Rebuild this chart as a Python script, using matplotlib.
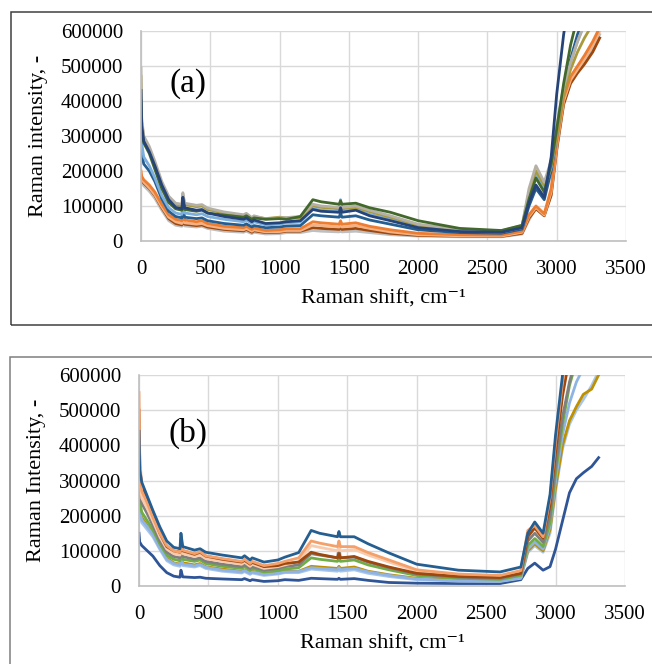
import numpy as np
import matplotlib
matplotlib.use('Agg')
import matplotlib.pyplot as plt
from matplotlib.patches import Rectangle

plt.rcParams.update({
    'font.family': ['Liberation Serif', 'DejaVu Serif'],
    'font.size': 15,
})

# Raman shift grid (cm-1), shared by every spectrum
shift = [0, 5, 20, 60, 100, 150, 200, 250, 295, 302, 315, 400, 440, 480, 600, 740, 760, 800, 815, 900,
         1000, 1050, 1150, 1240, 1300, 1430, 1440, 1450, 1550, 1650, 1800, 2000, 2300, 2600, 2750, 2800,
         2850, 2910, 2960, 3000, 3050, 3100, 3150, 3200, 3260, 3310]

# panel (a) intensities, thousands
a_gray = [495, 350, 300, 270, 228, 170, 128, 108, 105, 138, 108, 102, 104, 94, 83, 75, 79, 67, 72, 63,
          66, 67, 70, 105, 100, 96, 108, 96, 100, 88, 72, 48, 33, 29, 44, 150,
          215, 168, 230, 330, 440, 510, 570, 620, 680, 720]
a_olive = [470, 340, 295, 262, 220, 162, 122, 104, 100, 132, 104, 98, 100, 90, 80, 72, 76, 64, 70, 64,
           68, 66, 66, 100, 96, 92, 104, 92, 96, 84, 68, 45, 32, 28, 42, 140,
           200, 160, 215, 300, 420, 490, 540, 580, 620, 660]
a_green = [400, 320, 280, 250, 205, 150, 110, 92, 88, 118, 90, 85, 88, 80, 74, 68, 72, 62, 66, 62,
           64, 62, 70, 118, 112, 105, 115, 105, 108, 95, 82, 58, 36, 30, 45, 120,
           180, 140, 220, 320, 450, 560, 640, 700, 760, 800]
a_lblue = [360, 280, 240, 215, 180, 130, 95, 80, 76, 110, 80, 75, 78, 70, 62, 55, 60, 50, 55, 46,
           48, 52, 54, 92, 88, 84, 118, 84, 90, 76, 62, 40, 28, 25, 38, 130,
           190, 150, 210, 300, 430, 510, 570, 620, 670, 710]
a_navy = [430, 330, 285, 255, 215, 160, 118, 96, 92, 125, 95, 88, 90, 80, 70, 62, 66, 55, 60, 50,
          52, 55, 58, 90, 85, 82, 95, 82, 88, 72, 58, 38, 27, 25, 38, 110,
          160, 125, 240, 420, 590, 720, 800, 850, 900, 950]
a_dblue = [300, 250, 220, 200, 170, 120, 85, 70, 66, 95, 68, 64, 66, 58, 50, 45, 49, 40, 44, 38,
           40, 43, 44, 75, 72, 68, 80, 68, 72, 60, 48, 32, 24, 22, 34, 100,
           150, 118, 200, 300, 430, 520, 590, 640, 700, 740]
a_orange = [200, 185, 175, 160, 140, 105, 75, 62, 58, 85, 60, 55, 58, 50, 42, 38, 42, 33, 37, 30,
            32, 35, 35, 55, 52, 48, 58, 48, 52, 42, 32, 22, 18, 17, 28, 75,
            100, 78, 150, 280, 410, 470, 500, 530, 570, 610]
a_peach = [190, 178, 168, 152, 132, 98, 68, 55, 50, 75, 52, 48, 50, 44, 36, 32, 36, 28, 32, 26,
           27, 30, 30, 46, 44, 40, 48, 40, 44, 36, 26, 18, 15, 14, 25, 70,
           96, 74, 140, 270, 400, 460, 490, 520, 560, 600]
a_brown = [185, 175, 165, 150, 130, 95, 64, 50, 46, 70, 48, 44, 46, 40, 33, 29, 33, 25, 29, 24,
           25, 28, 28, 38, 36, 33, 40, 33, 36, 30, 22, 16, 14, 13, 22, 65,
           92, 72, 130, 260, 390, 450, 480, 505, 540, 580]
a_silver = [175, 168, 158, 142, 122, 88, 58, 45, 42, 62, 43, 40, 42, 36, 28, 25, 28, 21, 25, 20,
            21, 24, 24, 30, 28, 26, 30, 26, 28, 24, 18, 14, 12, 12, 20, 60,
            95, 72, 135, 265, 395, 455, 485, 510, 550, 590]

# panel (b) intensities, thousands
b_top = [440, 330, 295, 255, 215, 168, 128, 110, 106, 150, 112, 102, 106, 96, 88, 80, 86, 74, 80, 68,
         74, 82, 95, 158, 150, 140, 155, 140, 140, 120, 94, 62, 45, 40, 54, 150,
         182, 150, 260, 430, 600, 720, 800, 850, 900, 950]
b_orange = [550, 380, 270, 235, 195, 150, 115, 100, 96, 140, 102, 92, 98, 86, 78, 70, 76, 64, 70, 58,
            64, 70, 80, 128, 122, 112, 128, 112, 112, 95, 74, 46, 34, 30, 44, 158,
            172, 140, 250, 410, 580, 700, 780, 840, 890, 930]
b_brown = [500, 340, 285, 245, 200, 150, 112, 100, 96, 132, 100, 90, 96, 85, 76, 68, 73, 62, 67, 55,
           58, 64, 68, 96, 90, 80, 92, 80, 84, 70, 54, 36, 27, 24, 36, 140,
           165, 135, 230, 380, 540, 650, 720, 780, 830, 870]
b_peach = [470, 300, 250, 220, 185, 140, 105, 92, 88, 125, 92, 84, 88, 78, 70, 62, 68, 56, 62, 50,
           55, 60, 70, 115, 110, 100, 115, 100, 104, 88, 68, 42, 30, 27, 40, 150,
           165, 135, 240, 400, 570, 680, 760, 820, 870, 910]
b_gray = [420, 280, 235, 205, 172, 128, 96, 84, 80, 118, 84, 76, 80, 70, 62, 55, 60, 50, 55, 45,
          50, 55, 60, 92, 88, 80, 112, 80, 82, 68, 52, 34, 25, 22, 34, 128,
          150, 124, 200, 340, 480, 580, 650, 700, 750, 790]
b_green = [300, 240, 210, 185, 160, 120, 88, 76, 72, 108, 76, 70, 74, 64, 56, 50, 55, 45, 50, 40,
           44, 48, 52, 80, 76, 70, 80, 70, 74, 60, 46, 30, 22, 19, 30, 115,
           135, 112, 180, 320, 460, 570, 640, 690, 740, 780]
b_sky = [250, 210, 188, 168, 146, 108, 76, 64, 60, 90, 62, 57, 61, 53, 45, 40, 44, 36, 40, 33,
         36, 40, 41, 52, 50, 46, 52, 46, 50, 40, 30, 20, 15, 14, 24, 105,
         125, 105, 170, 300, 430, 520, 580, 620, 660, 700]
b_gold = [260, 220, 195, 172, 150, 112, 80, 66, 62, 95, 66, 60, 64, 55, 48, 42, 46, 38, 42, 34,
          38, 42, 42, 56, 54, 50, 56, 50, 54, 42, 32, 22, 17, 15, 25, 100,
          120, 100, 160, 280, 400, 470, 510, 545, 560, 600]
b_lblue = [230, 200, 180, 160, 140, 104, 72, 60, 56, 86, 58, 54, 58, 50, 42, 37, 41, 33, 37, 30,
           34, 38, 38, 48, 46, 42, 48, 42, 46, 36, 27, 18, 14, 13, 22, 95,
           115, 96, 150, 270, 390, 460, 500, 530, 570, 610]
b_low = [150, 125, 115, 100, 85, 58, 38, 28, 25, 45, 26, 24, 25, 22, 20, 18, 21, 15, 18, 13,
         15, 18, 16, 22, 21, 19, 22, 19, 21, 16, 10, 8, 7, 7, 18, 50,
         65, 45, 55, 105, 185, 265, 305, 322, 340, 365]

series_a = [(a_silver, '#BFBFBF'), (a_brown, '#9E480E'), (a_peach, '#F4B183'), (a_orange, '#ED7D31'),
            (a_dblue, '#255E91'), (a_lblue, '#7CAFDD'), (a_olive, '#A99A3C'), (a_gray, '#B4B0A6'),
            (a_green, '#43682B'), (a_navy, '#264478')]
series_b = [(b_low, '#2F5597'), (b_lblue, '#A9C6E8'), (b_gold, '#BF9000'), (b_sky, '#8FB4E3'),
            (b_green, '#70AD47'), (b_gray, '#7F7F7F'), (b_peach, '#F8CBAD'), (b_brown, '#9E480E'),
            (b_orange, '#F4A06A'), (b_top, '#255E91')]

W, H = 652, 664
fig = plt.figure(figsize=(W / 100, H / 100), dpi=100)


def px_axes(left, top, right, bottom):
    return fig.add_axes([left / W, 1 - bottom / H, (right - left) / W, (bottom - top) / H])


def frame(left, top, bottom, color):
    fig.patches.append(Rectangle((left / W, 1 - bottom / H), 2, (bottom - top) / H,
                                 transform=fig.transFigure, fill=False, edgecolor=color,
                                 linewidth=1.1))


frame(11, 12, 325, '#404040')
frame(10, 357, 700, '#7f7f7f')


def panel(ax, series, ylabel, tag, tag_xy):
    x = np.array(shift)
    for vals, col in series:
        ax.plot(x, np.array(vals) * 1000, color=col, linewidth=2.0, solid_joinstyle='round')
    ax.set_xlim(0, 3500)
    ax.set_ylim(0, 600000)
    ax.set_xticks(range(0, 3501, 500))
    ax.set_yticks(range(0, 600001, 100000))
    ax.grid(True, color='#D9D9D9', linewidth=1.0)
    ax.set_axisbelow(True)
    for s in ['top', 'right']:
        ax.spines[s].set_visible(False)
    for s in ['left', 'bottom']:
        ax.spines[s].set_color('#BFBFBF')
        ax.spines[s].set_linewidth(1.2)
    ax.tick_params(axis='both', length=0, labelsize=15)
    ax.tick_params(axis='y', pad=13)
    ax.tick_params(axis='x', pad=14)
    ax.set_xlabel('Raman shift, cm\u207b\u00b9', fontsize=16, labelpad=7)
    ax.set_ylabel(ylabel, fontsize=16, labelpad=9)
    ax.text(tag_xy[0], tag_xy[1], tag, transform=ax.transAxes, fontsize=24,
            ha='center', va='center')


ax_a = px_axes(141, 31, 626, 241)
panel(ax_a, series_a, 'Raman intensity, -', '(a)', (0.097, 0.75))

ax_b = px_axes(139, 375, 625, 586)
panel(ax_b, series_b, 'Raman Intensity, -', '(b)', (0.10, 0.725))

fig.savefig('out.png', dpi=100)
